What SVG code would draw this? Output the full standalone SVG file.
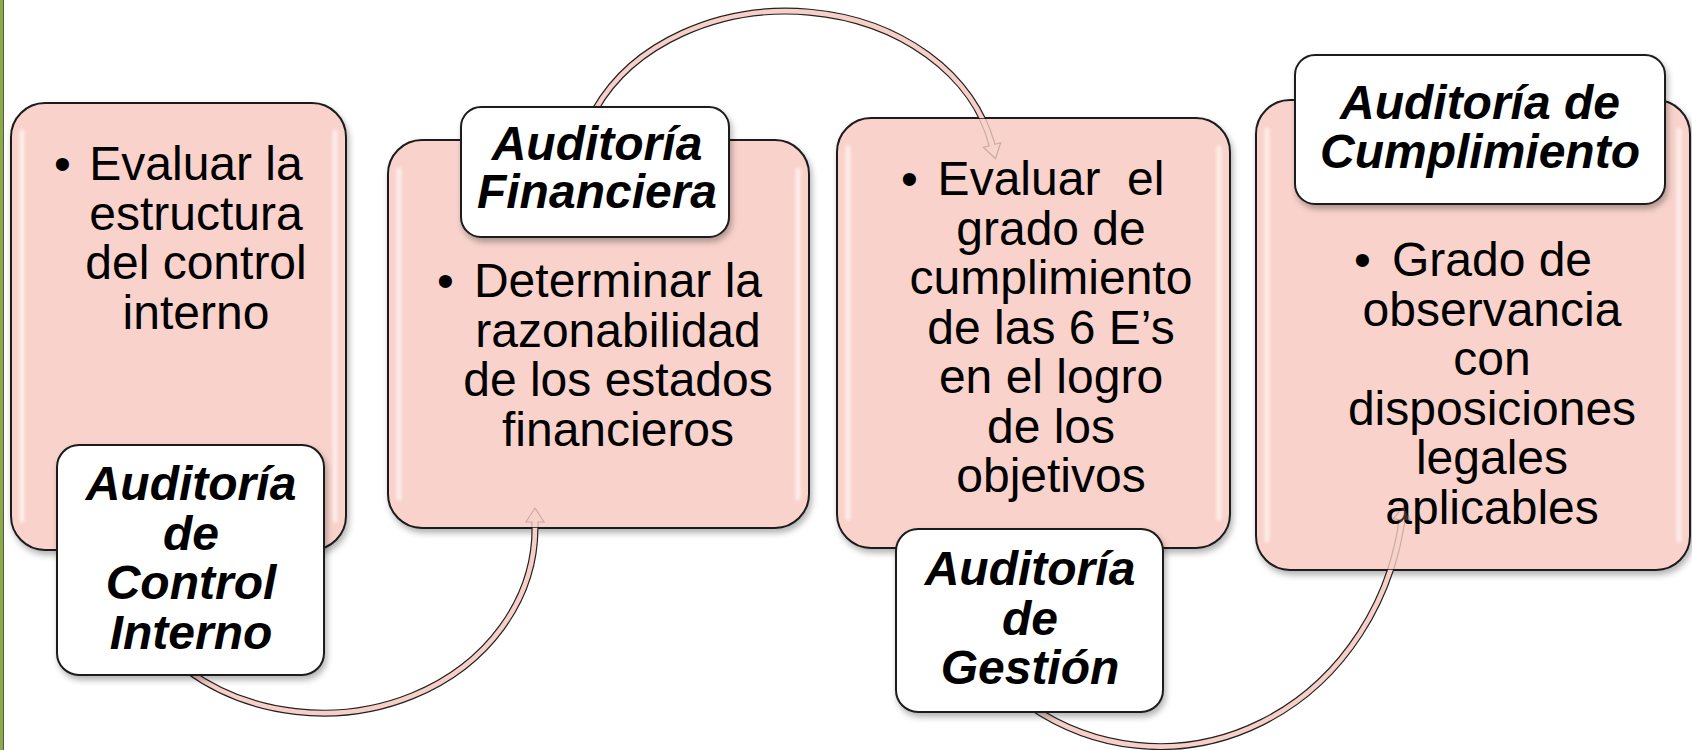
<svg xmlns="http://www.w3.org/2000/svg" xmlns:xlink="http://www.w3.org/1999/xlink" width="1692" height="750" viewBox="0 0 1692 750">
<style>
.box{fill:#f9d3cb;stroke:#1c1c1c;stroke-width:2}
.lab{fill:#ffffff;stroke:#1c1c1c;stroke-width:2}
.gl{fill:none;stroke:#ffffff;stroke-width:5;stroke-linecap:round;opacity:0.6}
.body{font-family:"Liberation Sans",Arial,sans-serif;font-size:48px;fill:#000;text-anchor:middle}
.bul{font-family:"Liberation Sans",Arial,sans-serif;font-size:48px;fill:#000}
.title{font-family:"Liberation Sans",Arial,sans-serif;font-size:48px;font-weight:bold;font-style:italic;fill:#000;text-anchor:middle}
.arcO{fill:none;stroke:#222;stroke-width:7}
.arcI{fill:none;stroke:#f8cfc6;stroke-width:4.6}
</style>
<defs>
<filter id="sh" x="-10%" y="-10%" width="125%" height="125%">
<feDropShadow dx="2" dy="4" stdDeviation="3" flood-color="#000" flood-opacity="0.3"/>
</filter>
<filter id="bl" x="-50%" y="-10%" width="200%" height="120%">
<feGaussianBlur stdDeviation="1.8"/>
</filter>
<marker id="head" markerUnits="userSpaceOnUse" orient="auto" refX="0" refY="0" markerWidth="20" markerHeight="20" overflow="visible">
<path d="M-6,-2.9 L0,-2.9 L0,-9 L14,0 L0,9 L0,2.9 L-6,2.9" fill="#f8cfc6" stroke="#222" stroke-width="1.2" stroke-linejoin="miter"/>
</marker>
<g id="arcs">
<path class="arcO" d="M187,670 A212,185 0 0 0 535,528 L535,522" marker-end="url(#head)"/>
<path class="arcI" d="M187,670 A212,185 0 0 0 535,528 L535,522"/>
<path class="arcO" d="M595,110 A210,168 0 0 1 992,145" marker-end="url(#head)"/>
<path class="arcI" d="M595,110 A210,168 0 0 1 992,145"/>
<path class="arcO" d="M1030,706 A245,267 0 0 0 1402,520" marker-end="url(#head)"/>
<path class="arcI" d="M1030,706 A245,267 0 0 0 1402,520"/>
</g>
<clipPath id="outside">
<path clip-rule="evenodd" d="M0,0 H1692 V750 H0 Z M388,140 H809 V528 H388 Z M837,118 H1230 V548 H837 Z M1256,100 H1690 V570 H1256 Z"/>
</clipPath>
<clipPath id="inside">
<rect x="388" y="140" width="421" height="388"/>
<rect x="837" y="118" width="393" height="430"/>
<rect x="1256" y="100" width="434" height="470"/>
</clipPath>
</defs>

<rect x="0" y="0" width="1692" height="750" fill="#ffffff"/>
<rect x="0" y="0" width="3" height="750" fill="#8bab47"/>
<line x1="3.5" y1="0" x2="3.5" y2="750" stroke="#555" stroke-width="1"/>

<g id="box-control-interno">
<rect class="box" x="11" y="103" width="335" height="447" rx="34" filter="url(#sh)"/>
<path class="gl" d="M22,132 V520 M335,132 V520" filter="url(#bl)"/>
<text class="bul" x="54" y="180">•</text>
<text class="body"><tspan x="196" y="180">Evaluar la</tspan><tspan x="196" y="229.5">estructura</tspan><tspan x="196" y="279">del control</tspan><tspan x="196" y="328.5">interno</tspan></text>
</g>

<g id="box-financiera">
<rect class="box" x="388" y="140" width="421" height="388" rx="34" filter="url(#sh)"/>
<path class="gl" d="M399,170 V498 M798,170 V498" filter="url(#bl)"/>
<text class="bul" x="437" y="297">•</text>
<text class="body"><tspan x="618" y="297">Determinar la</tspan><tspan x="618" y="346.5">razonabilidad</tspan><tspan x="618" y="396">de los estados</tspan><tspan x="618" y="445.5">financieros</tspan></text>
</g>

<g id="box-gestion">
<rect class="box" x="837" y="118" width="393" height="430" rx="34" filter="url(#sh)"/>
<path class="gl" d="M848,148 V518 M1219,148 V518" filter="url(#bl)"/>
<text class="bul" x="901" y="195">•</text>
<text class="body" style="white-space:pre"><tspan x="1051" y="195">Evaluar  el</tspan><tspan x="1051" y="244.5">grado de</tspan><tspan x="1051" y="294">cumplimiento</tspan><tspan x="1051" y="343.5">de las 6 E’s</tspan><tspan x="1051" y="393">en el logro</tspan><tspan x="1051" y="442.5">de los</tspan><tspan x="1051" y="492">objetivos</tspan></text>
</g>

<g id="box-cumplimiento">
<rect class="box" x="1256" y="100" width="434" height="470" rx="34" filter="url(#sh)"/>
<path class="gl" d="M1267,130 V540 M1679,130 V540" filter="url(#bl)"/>
<text class="bul" x="1354" y="276">•</text>
<text class="body"><tspan x="1492" y="276">Grado de</tspan><tspan x="1492" y="325.5">observancia</tspan><tspan x="1492" y="375">con</tspan><tspan x="1492" y="424.5">disposiciones</tspan><tspan x="1492" y="474">legales</tspan><tspan x="1492" y="523.5">aplicables</tspan></text>
</g>

<g id="connectors">
<use xlink:href="#arcs" clip-path="url(#outside)"/>
<use xlink:href="#arcs" clip-path="url(#inside)" opacity="0.22"/>
</g>

<g id="label-control-interno">
<rect class="lab" x="57" y="445" width="267" height="230" rx="22" filter="url(#sh)"/>
<text class="title"><tspan x="191" y="500">Auditoría</tspan><tspan x="191" y="549.5">de</tspan><tspan x="191" y="599">Control</tspan><tspan x="191" y="648.5">Interno</tspan></text>
</g>

<g id="label-financiera">
<rect class="lab" x="461" y="107" width="268" height="130" rx="20" filter="url(#sh)"/>
<text class="title"><tspan x="597" y="160">Auditoría</tspan><tspan x="597" y="208">Financiera</tspan></text>
</g>

<g id="label-gestion">
<rect class="lab" x="896" y="529" width="267" height="183" rx="22" filter="url(#sh)"/>
<text class="title"><tspan x="1030" y="585">Auditoría</tspan><tspan x="1030" y="634.5">de</tspan><tspan x="1030" y="684">Gestión</tspan></text>
</g>

<g id="label-cumplimiento">
<rect class="lab" x="1295" y="55" width="370" height="149" rx="20" filter="url(#sh)"/>
<text class="title"><tspan x="1480" y="119">Auditoría de</tspan><tspan x="1480" y="168">Cumplimiento</tspan></text>
</g>
</svg>
